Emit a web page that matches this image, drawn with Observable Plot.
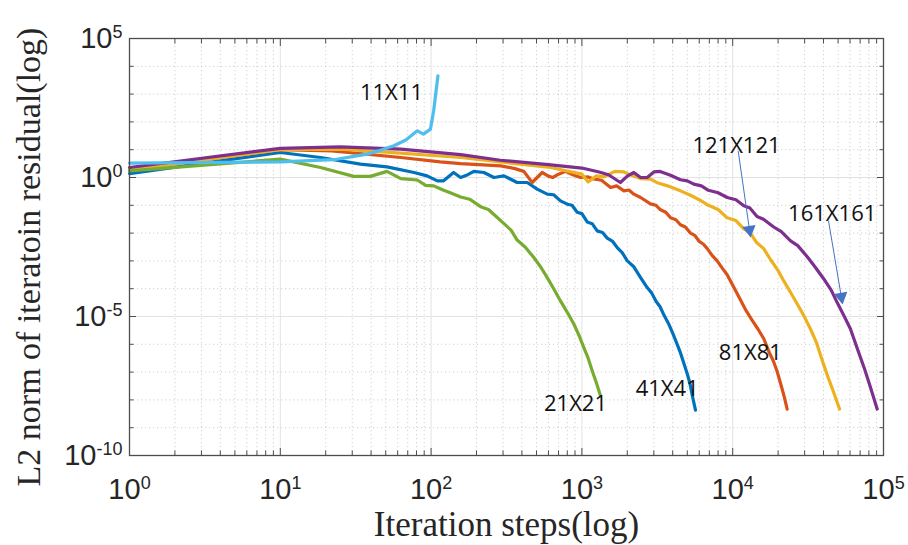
<!DOCTYPE html>
<html>
<head>
<meta charset="utf-8">
<script src="https://cdn.jsdelivr.net/npm/d3@7"></script>
<script src="https://cdn.jsdelivr.net/npm/@observablehq/plot@0.6"></script>
<style>
  html, body { margin: 0; padding: 0; background: #fff; }
  #chart svg { display: block; }
</style>
</head>
<body>
<div id="chart"></div>
<script>
// ---- data: [iteration step, log10(L2 residual)] ----
const res41 = [[1,0.14],[10,0.9],[18.5,0.72],[34,0.48],[51,0.38],[77,0.18],[94,0.06],[110,-0.12],[121,-0.12],[141,0.18],[157,0.0],[175,0.1],[192,0.22],[224,0.18],[261,0.0],[304,0.06],[372,-0.18],[434,-0.18],[505,-0.42],[589,-0.6],[650,-0.62],[721,-0.84],[800,-0.96],[860,-1.0],[930,-1.25],[1000,-1.3],[1084,-1.6],[1170,-1.66],[1263,-1.92],[1370,-1.98],[1472,-2.18],[1600,-2.3],[1714,-2.52],[1850,-2.7],[2000,-3.0],[2200,-3.2],[2450,-3.6],[2710,-3.96],[2900,-4.15],[3100,-4.45],[3300,-4.65],[3500,-4.95],[3750,-5.25],[4000,-5.6],[4285,-6.0],[4500,-6.3],[4700,-6.62],[5000,-7.07],[5200,-7.4],[5400,-7.85],[5665,-8.37]];
const res81 = [[1,0.28],[10,1.0],[22,0.96],[63,0.72],[115,0.56],[157,0.5],[290,0.42],[360,0.32],[412,0.22],[468,-0.18],[545,0.18],[600,0.05],[640,0.0],[700,0.12],[780,0.22],[870,0.1],[980,0.0],[1100,0.02],[1200,-0.05],[1350,-0.1],[1550,-0.36],[1700,-0.3],[1900,-0.48],[2050,-0.45],[2210,-0.6],[2450,-0.72],[2850,-0.95],[3100,-1.0],[3300,-1.15],[3600,-1.25],[3870,-1.45],[4200,-1.52],[4500,-1.7],[4850,-1.78],[5250,-2.0],[5600,-2.08],[6000,-2.3],[6400,-2.4],[6760,-2.55],[7300,-2.8],[7890,-3.0],[8500,-3.25],[9190,-3.5],[10170,-3.95],[11000,-4.3],[12300,-4.8],[13500,-5.15],[14700,-5.45],[16080,-5.8],[17500,-6.3],[18600,-6.6],[19720,-6.98],[21000,-7.5],[22000,-7.9],[22960,-8.33]];
const res121 = [[1,0.28],[10,1.0],[25,1.02],[63,0.88],[157,0.72],[288,0.56],[620,0.36],[1000,0.12],[1100,-0.16],[1250,0.06],[1400,0.02],[1650,0.22],[1900,0.2],[2200,0.05],[2450,-0.04],[2850,-0.06],[3200,-0.2],[3700,-0.3],[4500,-0.48],[5250,-0.64],[6000,-0.8],[6900,-1.0],[8000,-1.15],[9190,-1.45],[10500,-1.55],[11850,-1.85],[13000,-1.97],[14450,-2.35],[16000,-2.55],[17800,-2.95],[20000,-3.35],[21800,-3.72],[24000,-4.1],[26800,-4.55],[29500,-4.95],[32800,-5.45],[36000,-5.95],[40200,-6.75],[43000,-7.2],[46500,-7.7],[51100,-8.33]];
const res161 = [[1,0.36],[10,1.05],[25,1.1],[63,1.02],[157,0.82],[288,0.62],[600,0.46],[1000,0.34],[1300,0.2],[1500,0.1],[1800,-0.18],[2000,0.05],[2210,0.18],[2450,0.0],[2710,0.0],[3000,0.2],[3300,0.22],[3870,0.08],[4500,-0.08],[5000,-0.12],[5520,-0.24],[6200,-0.3],[6900,-0.46],[8000,-0.55],[9200,-0.72],[10500,-0.8],[11850,-1.02],[13000,-1.1],[14500,-1.4],[16000,-1.5],[18700,-1.78],[21000,-1.95],[24200,-2.28],[27000,-2.45],[31200,-2.85],[35000,-3.2],[40200,-3.65],[45000,-4.05],[49300,-4.5],[55000,-5.0],[60400,-5.45],[67000,-6.15],[75000,-6.9],[82000,-7.55],[90800,-8.33]];
const res21 = [[1,0.24],[10,0.66],[18.5,0.36],[30.7,0.04],[39.6,0.04],[51,0.22],[63,-0.04],[81,-0.09],[92,-0.28],[104,-0.3],[120,-0.45],[134,-0.55],[157,-0.7],[180,-0.78],[213,-1.05],[240,-1.15],[260,-1.32],[303,-1.65],[340,-1.9],[372,-2.25],[420,-2.5],[480,-2.88],[530,-3.2],[589,-3.6],[650,-4.0],[721,-4.44],[800,-4.85],[884,-5.27],[960,-5.7],[1030,-6.12],[1100,-6.5],[1170,-6.95],[1250,-7.4],[1328,-7.85]];
const res11 = [[1,0.52],[10,0.56],[22.6,0.64],[37.7,0.84],[46,0.98],[56.6,1.14],[68,1.35],[81,1.68],[89,1.56],[99,1.74],[104,2.4],[111,3.66]];

// drawing order (MATLAB colour order)
const seriesNames  = ["41X41", "81X81", "121X121", "161X161", "21X21", "11X11"];
const seriesData   = [res41, res81, res121, res161, res21, res11];
const seriesColors = ["#0072BD", "#D95319", "#EDB120", "#7E2F8E", "#77AC30", "#4DBEEE"];

// curve labels (data coordinates)
const labelNames  = ["11X11", "121X121", "161X161", "81X81", "41X41", "21X21"];
const labelSteps  = [54.6, 10600, 45700, 13100, 3680, 907];
const labelLogRes = [3.03, 1.14, -1.32, -6.31, -7.61, -8.15];

// annotation arrows
const arrowFromSteps  = [10870, 43200];
const arrowFromLogRes = [0.96, -1.56];
const arrowToSteps    = [12920, 52500];
const arrowToLogRes   = [-1.88, -4.29];
const arrowAngles     = [171.8, 170.5];

// ticks
const xDecadeExp   = [0, 1, 2, 3, 4, 5];
const xMinorMult   = [2, 3, 4, 5, 6, 7, 8, 9];
const yLabelExp    = [-10, -5, 0, 5];
const yMinorExp    = [-9, -8, -7, -6, -4, -3, -2, -1, 1, 2, 3, 4];

const xDecades = xDecadeExp.map(e => 10 ** e);
const xMinor = xDecades.slice(0, -1).flatMap(d => xMinorMult.map(m => m * d));
const yLabeled = yLabelExp.map(e => 10 ** e);
const yMinor = yMinorExp.map(e => 10 ** e);

const lineMarks = seriesData.map((pts, i) =>
  Plot.line(pts.map(([s, e]) => ({step: s, res: 10 ** e, name: seriesNames[i]})),
    {x: "step", y: "res", stroke: seriesColors[i], strokeWidth: 3.2, strokeLinejoin: "round"}));

const labels = labelNames.map((n, i) => ({name: n, step: labelSteps[i], res: 10 ** labelLogRes[i]}));
const arrows = arrowFromSteps.map((s, i) => ({
  x1: s, y1: 10 ** arrowFromLogRes[i], x2: arrowToSteps[i], y2: 10 ** arrowToLogRes[i], angle: arrowAngles[i]
}));

const expFormat = d => "10^" + Math.round(Math.log10(d));
const axisColor = "#4d4d4d";
const textColor = "#262626";
const serif = "'Liberation Serif', 'Times New Roman', serif";

const svg = Plot.plot({
  width: 908,
  height: 545,
  marginLeft: 129,
  marginRight: 25,
  marginTop: 38,
  marginBottom: 90,
  style: {background: "#fff", fontFamily: "'Liberation Sans', Arial, sans-serif", overflow: "visible"},
  x: {type: "log", domain: [1, 1e5], label: null},
  y: {type: "log", domain: [1e-10, 1e5], label: null},
  marks: [
    // grid
    Plot.ruleX(xMinor, {stroke: "#c4c4c4", strokeWidth: 0.8, strokeDasharray: "1.2,2.8"}),
    Plot.ruleY(yMinor, {stroke: "#c4c4c4", strokeWidth: 0.8, strokeDasharray: "1.2,2.8"}),
    Plot.ruleX(xDecades.slice(1, -1), {stroke: "#e3e3e3", strokeWidth: 1}),
    Plot.ruleY([1, 1e-5], {stroke: "#e3e3e3", strokeWidth: 1}),
    // curves
    ...lineMarks,
    // box
    Plot.frame({stroke: axisColor, strokeWidth: 1.3}),
    // inward ticks
    Plot.axisX(xDecades, {anchor: "bottom", tickSize: 7, dy: -7, tickFormat: () => "", stroke: axisColor, label: null}),
    Plot.axisX(xDecades, {anchor: "top", tickSize: 7, dy: 7, tickFormat: () => "", stroke: axisColor, label: null}),
    Plot.axisX(xMinor, {anchor: "bottom", tickSize: 4.5, dy: -4.5, tickFormat: () => "", stroke: axisColor, label: null}),
    Plot.axisX(xMinor, {anchor: "top", tickSize: 4.5, dy: 4.5, tickFormat: () => "", stroke: axisColor, label: null}),
    Plot.axisY(yLabeled, {anchor: "left", tickSize: 7, dx: 7, tickFormat: () => "", stroke: axisColor, label: null}),
    Plot.axisY(yLabeled, {anchor: "right", tickSize: 7, dx: -7, tickFormat: () => "", stroke: axisColor, label: null}),
    Plot.axisY(yMinor, {anchor: "left", tickSize: 4.5, dx: 4.5, tickFormat: () => "", stroke: axisColor, label: null}),
    Plot.axisY(yMinor, {anchor: "right", tickSize: 4.5, dx: -4.5, tickFormat: () => "", stroke: axisColor, label: null}),
    // tick labels
    Plot.axisX(xDecades, {anchor: "bottom", tickSize: 0, tickPadding: 23, tickFormat: expFormat, fontSize: 29, fill: textColor, label: null}),
    Plot.axisY(yLabeled, {anchor: "left", tickSize: 0, tickPadding: 7, tickFormat: expFormat, fontSize: 29, fill: textColor, label: null}),
    // axis titles
    Plot.text(["Iteration steps(log)"], {text: d => d, frameAnchor: "bottom", textAnchor: "middle", lineAnchor: "middle", dy: 69, fontFamily: serif, fontSize: 35, fill: textColor}),
    Plot.text(["L2 norm of iteratoin residual(log)"], {text: d => d, frameAnchor: "left", textAnchor: "middle", lineAnchor: "middle", dx: -100, dy: 10, rotate: -90, fontFamily: serif, fontSize: 34, fill: textColor}),
    // annotation arrows
    Plot.link(arrows, {x1: "x1", y1: "y1", x2: "x2", y2: "y2", stroke: "#4472C4", strokeWidth: 1}),
    Plot.dot(arrows, {x: "x2", y: "y2", symbol: "triangle", r: 5, fill: "#4472C4", stroke: "none", rotate: "angle"}),
    // curve labels
    Plot.text(labels, {x: "step", y: "res", text: "name", fontFamily: "'Open Sans', sans-serif", fontSize: 22, fill: "#111"})
  ]
});

// turn "10^k" tick labels into 10 with a superscript exponent
svg.querySelectorAll('[aria-label="x-axis tick label"] text, [aria-label="y-axis tick label"] text').forEach(t => {
  const s = t.textContent;
  if (!s.startsWith("10^")) return;
  const e = s.slice(3);
  t.textContent = "10";
  const sp = document.createElementNS("http://www.w3.org/2000/svg", "tspan");
  sp.setAttribute("dy", "-10");
  sp.setAttribute("font-size", "18");
  sp.textContent = e;
  t.appendChild(sp);
});

document.getElementById("chart").appendChild(svg);
</script>
</body>
</html>
